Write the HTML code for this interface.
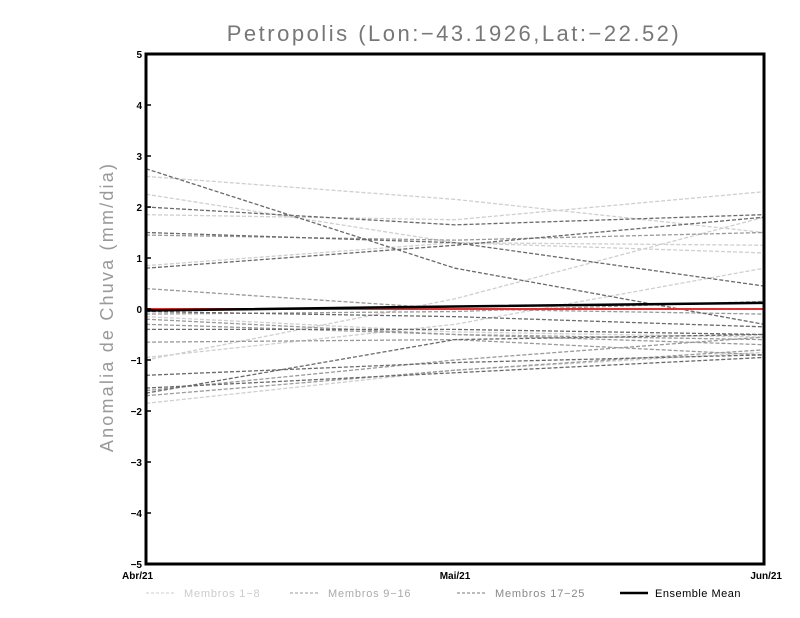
<!DOCTYPE html>
<html><head><meta charset="utf-8"><style>
body{margin:0;background:#fff;width:800px;height:618px;overflow:hidden}
svg{display:block;font-family:"Liberation Sans",sans-serif}
</style></head><body>
<svg id="c" width="800" height="618">
<text x="454" y="41" text-anchor="middle" font-size="22" fill="#777" letter-spacing="2.5">Petropolis (Lon:−43.1926,Lat:−22.52)</text>
<text transform="translate(113,307) rotate(-90)" text-anchor="middle" font-size="18" fill="#999" letter-spacing="2.2">Anomalia de Chuva (mm/dia)</text>
<g id="marks"></g>
<rect x="146" y="54" width="618" height="510" fill="none" stroke="#000" stroke-width="3"/>
<g id="axes"></g>
<g font-size="11">
<line x1="146" y1="593" x2="176" y2="593" stroke="#ccc" stroke-dasharray="3,2"/>
<text x="184" y="597" fill="#ccc" letter-spacing="0.8">Membros 1−8</text>
<line x1="290" y1="593" x2="320" y2="593" stroke="#999" stroke-dasharray="3,2"/>
<text x="328" y="597" fill="#aaa" letter-spacing="0.8">Membros 9−16</text>
<line x1="457" y1="593" x2="487" y2="593" stroke="#777" stroke-dasharray="3,2"/>
<text x="495" y="597" fill="#888" letter-spacing="0.8">Membros 17−25</text>
<line x1="620" y1="593" x2="648" y2="593" stroke="#000" stroke-width="2.5"/>
<text x="655" y="597" fill="#000" letter-spacing="0.5">Ensemble Mean</text>
</g>
</svg>
<script>
const categories=["Abr/21","Mai/21","Jun/21"];
const yTicks=[-5,-4,-3,-2,-1,0,1,2,3,4,5];
const members1to8=[[2.6,2.15,1.5],[1.85,1.75,2.3],[2.25,1.3,1.25],[0.85,1.3,1.1],[-0.95,-0.3,0.8],[-1.0,0.2,1.8],[-0.15,-0.45,-0.55],[-1.85,-1.2,-0.85]];
const members9to16=[[1.45,1.35,1.5],[-0.3,-0.5,-0.6],[-0.1,-0.05,0.15],[-1.6,-1.0,-0.55],[-0.2,-0.5,-0.7],[-0.65,-0.6,-0.9],[-1.7,-1.2,-0.8],[0.4,0.0,-0.1]];
const members17to25=[[2.75,0.8,-0.3],[2.0,1.65,1.85],[0.8,1.25,1.8],[1.5,1.3,0.45],[-0.4,-0.4,-0.5],[-1.3,-1.05,-0.9],[-1.55,-1.25,-0.95],[-1.65,-0.6,-0.5],[-0.05,-0.15,-0.35]];
const ensembleMean=[-0.03,0.05,0.12];
const NS="http://www.w3.org/2000/svg";
const X0=146,X1=764,Y0=564,Y1=54;
function xs(i){return X0+(X1-X0)*i/(categories.length-1);}
function ys(v){return Y0+(Y1-Y0)*(v+5)/10;}
const marks=document.getElementById('marks'),axes=document.getElementById('axes');
function mk(t,a,p){const e=document.createElementNS(NS,t);for(const k in a)e.setAttribute(k,a[k]);p.appendChild(e);return e;}
function series(arr,color,name){arr.forEach((s,j)=>{const el=mk('polyline',{points:s.map((v,i)=>xs(i)+','+ys(v)).join(' '),fill:'none',stroke:color,'stroke-width':1.3,'stroke-dasharray':'4,2'},marks);

});}
series(members1to8,'#cfcfcf','member-light');
series(members9to16,'#9a9a9a','member-mid');
series(members17to25,'#6a6a6a','member-dark');
const zl=mk('line',{x1:X0,x2:X1,y1:ys(0),y2:ys(0),stroke:'#e03030','stroke-width':2},marks);


const em=mk('polyline',{points:ensembleMean.map((v,i)=>xs(i)+','+ys(v)).join(' '),fill:'none',stroke:'#000','stroke-width':2.5},marks);


yTicks.forEach(v=>{const t=mk('text',{x:X0-4,y:ys(v)+4,'text-anchor':'end','font-size':10,'font-weight':'bold'},axes);t.textContent=v<0?'−'+(-v):String(v);


const l=mk('line',{x1:X0,x2:X0+5,y1:ys(v),y2:ys(v),stroke:'#000','stroke-width':1.5},axes);

});
categories.forEach((c,i)=>{const a=i==0?'start':i==categories.length-1?'end':'middle';
const t=mk('text',{x:xs(i)+(i==0?-24:i==2?18:0),y:579,'text-anchor':a,'font-size':10,'font-weight':'bold'},axes);t.textContent=c;

});
</script>
</body></html>
